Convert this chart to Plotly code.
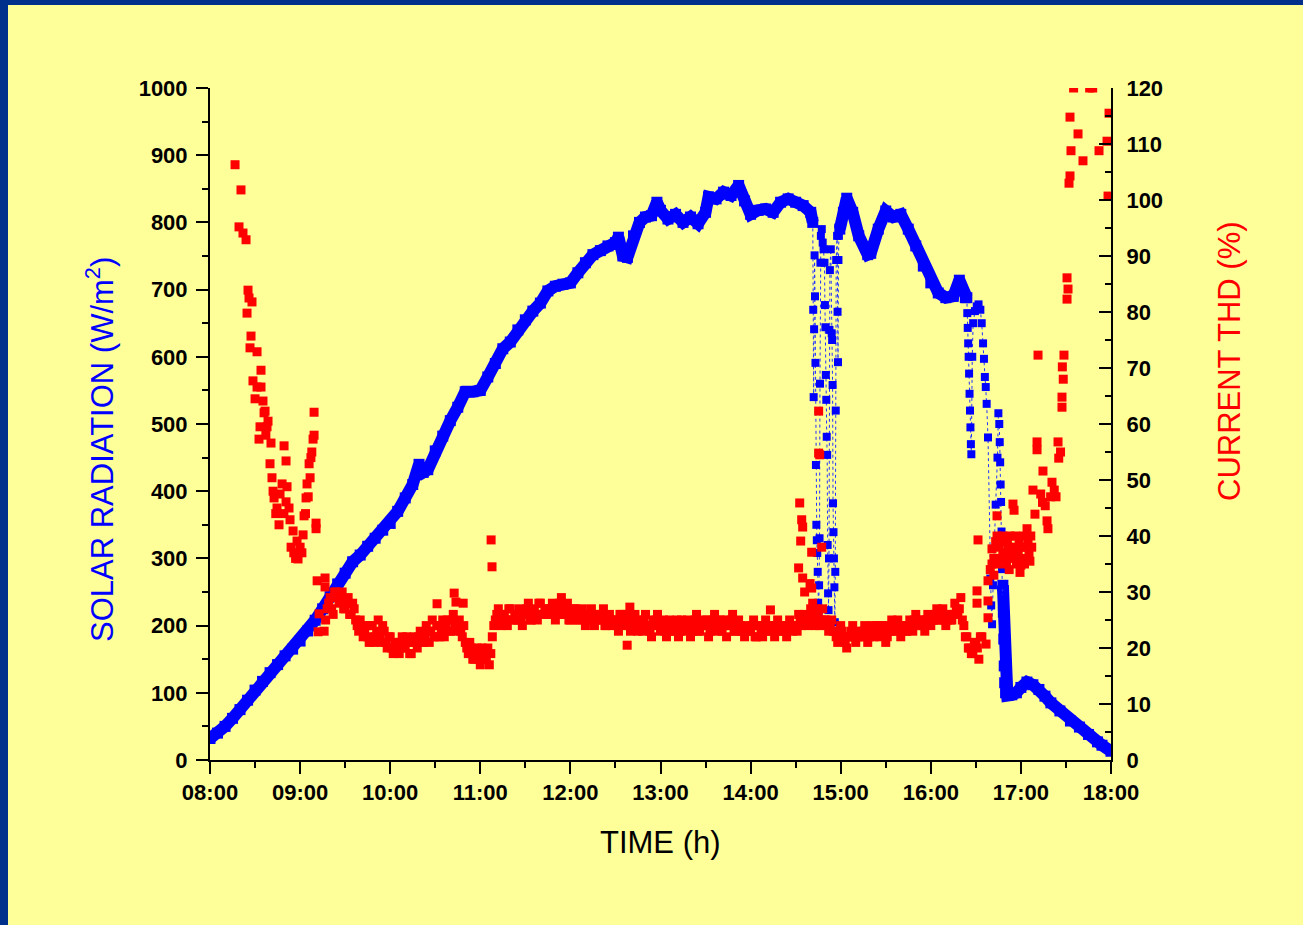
import plotly.graph_objects as go

# ---------------- DATA ----------------
time_ticks = [8, 9, 10, 11, 12, 13, 14, 15, 16, 17, 18]
time_labels = ["08:00", "09:00", "10:00", "11:00", "12:00", "13:00",
               "14:00", "15:00", "16:00", "17:00", "18:00"]

# Solar radiation (W/m2) - continuous parts of the record
solar_t1 = [8.000, 8.083, 8.167, 8.250, 8.333, 8.417, 8.500, 8.583, 8.667, 8.750,
            8.833, 8.917, 9.000, 9.083, 9.167, 9.250, 9.333, 9.417, 9.500, 9.583,
            9.667, 9.750, 9.833, 9.917, 10.000, 10.083, 10.167, 10.250, 10.320, 10.367,
            10.417, 10.500, 10.583, 10.667, 10.750, 10.833, 10.917, 11.000, 11.083, 11.167,
            11.250, 11.333, 11.417, 11.500, 11.583, 11.667, 11.750, 11.833, 11.917, 12.000,
            12.083, 12.167, 12.250, 12.333, 12.417, 12.500, 12.533, 12.583, 12.633, 12.700,
            12.767, 12.833, 12.900, 12.960, 13.000, 13.083, 13.167, 13.250, 13.333, 13.417,
            13.500, 13.533, 13.617, 13.700, 13.783, 13.867, 13.933, 14.000, 14.083, 14.167,
            14.250, 14.333, 14.417, 14.500, 14.583, 14.667, 14.690]
solar_v1 = [32, 40, 50, 62, 75, 89, 104, 117, 130, 142,
            155, 165, 177, 192, 208, 225, 243, 262, 278, 295,
            305, 318, 330, 342, 352, 370, 390, 410, 440, 428,
            432, 460, 482, 505, 525, 548, 548, 550, 570, 590,
            612, 622, 640, 655, 668, 680, 698, 705, 708, 710,
            725, 740, 752, 758, 765, 770, 778, 750, 748, 780,
            800, 808, 810, 830, 818, 805, 812, 800, 808, 798,
            815, 838, 835, 845, 840, 855, 832, 812, 818, 820,
            815, 830, 835, 830, 825, 815, 800]

solar_t2 = [14.990, 15.030, 15.067, 15.133, 15.200, 15.300, 15.333, 15.417, 15.500, 15.583,
            15.667, 15.750, 15.833, 15.917, 16.000, 16.083, 16.167, 16.250, 16.317, 16.383,
            16.400]
solar_v2 = [790, 815, 836, 815, 780, 752, 754, 790, 817, 808,
            812, 790, 765, 735, 710, 695, 688, 690, 714, 688,
            688]

solar_t3 = [16.800, 16.805, 16.810, 16.815, 16.820, 16.830, 16.850, 16.900, 16.950, 17.000,
            17.067, 17.133, 17.200, 17.267, 17.333, 17.433, 17.550, 17.650, 17.750, 17.850,
            17.900, 18.000]
solar_v3 = [260, 220, 180, 140, 115, 100, 96, 97, 100, 108,
            116, 112, 105, 95, 85, 73, 58, 49, 38, 27,
            22, 13]

# Solar radiation - fluctuating (cloud) intervals, single samples
dip_t1 = [14.690, 14.695, 14.700, 14.705, 14.710, 14.715, 14.720, 14.725, 14.730, 14.735,
          14.740, 14.745, 14.750, 14.755, 14.760, 14.765, 14.770, 14.775, 14.780, 14.790,
          14.800, 14.810, 14.820, 14.825, 14.830, 14.835, 14.840, 14.845, 14.850, 14.855,
          14.860, 14.865, 14.870, 14.875, 14.880, 14.890, 14.900, 14.905, 14.910, 14.915,
          14.920, 14.925, 14.930, 14.935, 14.940, 14.945, 14.950, 14.960, 14.965, 14.970,
          14.975, 14.980, 14.990]
dip_v1 = [800, 670, 540, 641, 751, 690, 591, 439, 350, 327,
          308, 280, 234, 220, 260, 330, 560, 740, 780, 790,
          770, 760, 740, 677, 644, 573, 536, 481, 454, 320,
          248, 223, 300, 640, 729, 760, 635, 625, 558, 382,
          339, 300, 257, 205, 280, 520, 744, 780, 667, 592,
          744, 780, 790]

dip_t2 = [16.400, 16.405, 16.410, 16.415, 16.420, 16.425, 16.430, 16.435, 16.440, 16.445,
          16.450, 16.460, 16.470, 16.490, 16.510, 16.530, 16.550, 16.565, 16.580, 16.590,
          16.600, 16.610, 16.620, 16.635, 16.660, 16.670, 16.680, 16.690, 16.700, 16.720,
          16.740, 16.750, 16.760, 16.765, 16.770, 16.775, 16.780, 16.785, 16.790, 16.795,
          16.800]
dip_v2 = [688, 665, 643, 620, 600, 575, 545, 520, 495, 470,
          455, 600, 650, 668, 675, 678, 670, 650, 620, 597,
          570, 555, 530, 480, 270, 230, 202, 260, 300, 380,
          450, 516, 500, 473, 443, 410, 384, 340, 284, 240,
          260]

# Current THD (%) - regularly sampled band A, every 2 min from 09:16
thd_band_start = 9 + 16 / 60
thd_band_step = 2 / 60
thd_band = [23, 27, 29, 26, 30, 28, 30, 27, 29, 26,
            27, 24, 25, 22, 24, 21, 24, 22, 25, 21,
            23, 20, 22, 19, 21, 19, 22, 20, 21, 19,
            22, 20, 23, 21, 24, 21, 25, 22, 24, 23,
            22, 25, 23, 26, 24, 25, 22, 21, 19, 20,
            18, 20, 17, 19, 18, 17, 22, 25, 27, 24,
            26, 24, 27, 25, 26, 27, 24, 26, 28, 25,
            27, 25, 28, 26, 27, 26, 28, 25, 27, 29,
            26, 28, 25, 27, 26, 25, 27, 24, 26, 27,
            24, 26, 25, 27, 24, 26, 24, 25, 23, 26,
            24, 26, 23, 25, 24, 25, 23, 26, 24, 22,
            24, 26, 23, 25, 22, 25, 23, 24, 22, 25,
            23, 25, 22, 24, 26, 23, 25, 24, 22, 25,
            26, 23, 25, 24, 22, 24, 26, 23, 25, 23,
            22, 24, 23, 25, 22, 24, 22, 25, 23, 24,
            22, 25, 23, 24, 22, 25, 23, 24, 26, 24,
            26, 24, 27, 25, 26, 24, 27, 25, 23, 25,
            23, 21, 24, 22, 20, 22, 24, 21, 23, 22,
            24, 21, 23, 22, 24, 22, 24, 21, 23, 25,
            23, 25, 22, 24, 23, 25, 23, 26, 24, 25,
            23, 26, 24, 25, 27, 25, 27, 24, 26, 25,
            28, 26, 29, 24, 22, 20, 19, 21, 18, 22]

# band B, every 2 min from 09:17
thd_band2_start = 9 + 17 / 60
thd_band2 = [25, 28, 27, 30, 29, 29, 27, 28, 26, 28,
             25, 23, 24, 23, 22, 24, 21, 23, 22, 24,
             21, 22, 20, 21, 20, 21, 20, 22, 19, 21,
             21, 22, 21, 22, 23, 23, 22, 24, 22, 25,
             24, 23, 25, 24, 23, 23, 24, 20, 21, 18,
             19, 18, 20, 18, 20, 19, 24, 26, 25, 26,
             25, 27, 25, 26, 25, 25, 26, 27, 25, 26,
             26, 28, 26, 27, 26, 27, 27, 26, 28, 26,
             27, 25, 26, 27, 25, 26, 26, 25, 25, 26,
             25, 25, 26, 24, 25, 25, 25, 24, 26, 25,
             25, 24, 24, 26, 23, 24, 25, 24, 23, 25,
             25, 24, 24, 23, 24, 23, 24, 25, 23, 24,
             24, 24, 23, 25, 23, 24, 24, 25, 23, 24,
             25, 24, 23, 25, 24, 25, 23, 24, 24, 23,
             23, 23, 24, 22, 24, 23, 24, 23, 24, 23,
             24, 23, 24, 23, 24, 24, 24, 23, 25, 25,
             25, 25, 26, 24, 26, 25, 25, 24, 24, 23,
             22, 22, 23, 21, 22, 23, 22, 22, 22, 23,
             23, 22, 24, 23, 23, 24, 23, 22, 24, 23,
             24, 24, 23, 23, 24, 24, 25, 24, 25, 24,
             25, 25, 25, 26, 25, 26, 25, 25, 25, 26,
             27, 27, 25, 22, 20, 19, 21, 20, 22]

# Current THD (%) - scattered samples
thd_t = [8.278, 8.344, 8.322, 8.366, 8.400, 8.422, 8.433, 8.466, 8.411, 8.455,
         8.444, 8.522, 8.566, 8.477, 8.522, 8.566, 8.500, 8.588, 8.611, 8.644,
         8.555, 8.633, 8.544, 8.677, 8.822, 8.844, 8.666, 8.688, 8.800, 8.855,
         8.711, 8.777, 8.844, 8.744, 8.877, 8.888, 8.766, 8.922, 8.966, 9.000,
         8.977, 9.033, 9.044, 9.066, 9.077, 9.111, 9.100, 9.144, 9.155, 9.155,
         9.177, 9.177, 9.189, 9.277, 9.277, 9.211, 9.200, 8.600, 8.620, 8.700,
         8.730, 8.820, 8.900, 8.930, 8.950, 9.020, 9.060, 9.090, 9.120, 9.130,
         10.520, 10.710, 10.730, 10.810, 11.120, 11.130, 12.660, 12.630, 14.220,
         14.545, 14.567, 14.578, 14.556, 14.533, 14.578, 14.678, 14.755, 14.755, 14.767,
         14.789, 14.678, 14.689, 14.660, 14.600, 14.720, 14.740,
         16.513, 16.513, 16.524, 16.635, 16.635, 16.635, 16.613, 16.660, 16.679, 16.679,
         16.700, 16.720, 16.735, 16.735, 16.760, 16.780, 16.800, 16.800, 16.820, 16.840,
         16.860, 16.880, 16.900, 16.912, 16.924, 16.930, 16.950, 16.960, 16.980, 17.000,
         17.020, 17.030, 17.050, 17.068, 17.079, 17.100, 17.120, 17.134, 17.156, 17.179,
         17.179, 17.190, 17.220, 17.240, 17.245, 17.270, 17.290, 17.300, 17.330, 17.345,
         17.370, 17.390, 17.412, 17.420, 17.440, 17.456, 17.456, 17.460, 17.470, 17.478,
         17.512, 17.523, 17.512, 17.534, 17.545, 17.556, 17.545, 17.585, 17.634, 17.689,
         17.763, 17.797, 17.867, 17.956, 17.978, 17.967,
         16.700, 16.740, 16.770, 16.830, 16.870, 16.970, 17.010, 17.040, 17.090, 17.110,
         16.990, 16.850, 16.890, 16.940]
thd_v = [106.3, 101.8, 95.2, 94.1, 92.9, 83.9, 82.5, 81.8, 79.8, 75.7,
         73.6, 72.9, 69.6, 67.7, 66.6, 66.6, 64.5, 64.1, 62.3, 60.5,
         59.5, 59.5, 57.3, 56.6, 56.1, 53.4, 52.9, 50.4, 49.3, 48.8,
         46.8, 47.5, 46.1, 45.0, 45.0, 42.9, 42.0, 40.9, 39.1, 38.0,
         35.9, 40.2, 43.6, 46.8, 49.3, 50.4, 52.9, 57.3, 58.0, 62.1,
         42.3, 41.3, 32.0, 32.5, 30.9, 26.1, 22.9, 62.0, 58.0, 48.0,
         44.0, 44.0, 38.0, 37.0, 36.0, 37.0, 44.0, 47.0, 54.0, 55.0,
         27.9, 29.8, 28.2, 28.0, 39.3, 34.5, 27.3, 20.5, 26.8,
         45.9, 42.9, 41.6, 39.1, 34.3, 32.5, 37.1, 62.3, 54.8, 54.5,
         38.0, 30.7, 28.0, 31.5, 30.0, 27.0, 26.5,
         30.2, 28.0, 39.3, 25.4, 28.4, 32.0, 20.7, 34.0, 35.0, 37.7,
         36.0, 39.0, 43.6, 40.0, 38.0, 36.0, 40.0, 37.0, 39.0, 35.0,
         38.0, 40.0, 36.0, 45.7, 44.6, 38.0, 35.0, 36.5, 39.0, 34.8,
         36.0, 40.0, 38.0, 41.3, 39.5, 35.5, 38.0, 48.2, 43.9, 56.8,
         55.4, 72.3, 47.5, 46.0, 51.6, 45.4, 42.7, 41.3, 47.0, 49.6,
         48.2, 47.0, 56.8, 53.9, 55.0, 64.8, 63.0, 70.2, 68.0, 72.3,
         86.1, 84.1, 82.3, 103.0, 104.3, 108.8, 114.8, 120.0, 111.8, 107.0,
         120.0, 120.0, 108.8, 110.5, 115.5, 100.7,
         33.0, 35.0, 39.0, 36.0, 34.0, 37.0, 38.0, 35.0, 37.0, 40.0,
         33.5, 39.0, 37.0, 40.0]

# ---------------- FIGURE ----------------
BLUE = "#0000FF"
RED = "#FF0000"
BG = "#FFFF99"
FRAME = "#00308C"
FONT = "Liberation Sans, Arial, sans-serif"

band_t = [thd_band_start + i * thd_band_step for i in range(len(thd_band))]
band2_t = [thd_band2_start + i * thd_band_step for i in range(len(thd_band2))]

fig = go.Figure()

# thick continuous radiation record
for tt, vv in [(solar_t1, solar_v1), (solar_t2, solar_v2), (solar_t3, solar_v3)]:
    fig.add_trace(go.Scatter(x=tt, y=vv, mode="lines+markers",
                             line=dict(color=BLUE, width=12),
                             marker=dict(symbol="square", size=11, color=BLUE),
                             showlegend=False, hoverinfo="skip"))
# fluctuating intervals: single samples joined by dotted line
for tt, vv in [(dip_t1, dip_v1), (dip_t2, dip_v2)]:
    fig.add_trace(go.Scatter(x=tt, y=vv, mode="lines+markers",
                             line=dict(color="#2233FF", width=1, dash="dot"),
                             marker=dict(symbol="square", size=8, color=BLUE),
                             showlegend=False, hoverinfo="skip"))

for tt, vv in [(band_t, thd_band), (band2_t, thd_band2), (thd_t, thd_v)]:
    fig.add_trace(go.Scatter(x=tt, y=vv, yaxis="y2", mode="markers",
                             marker=dict(symbol="square", size=9, color=RED),
                             showlegend=False, hoverinfo="skip"))

tickfont = dict(family=FONT, size=22, color="black", weight="bold")

fig.update_layout(
    width=1303, height=925, autosize=False,
    margin=dict(l=210, r=192, t=88, b=165, pad=0),
    paper_bgcolor=BG, plot_bgcolor=BG,
    showlegend=False,
    xaxis=dict(range=[8, 18], tickmode="array", tickvals=time_ticks, ticktext=time_labels,
               ticks="outside", ticklen=12, tickwidth=2, tickcolor="black",
               showline=True, linewidth=2, linecolor="black", showgrid=False, zeroline=False,
               tickfont=tickfont, ticklabelstandoff=0,
               minor=dict(tick0=8, dtick=0.5, ticks="outside", ticklen=6, tickwidth=2,
                          tickcolor="black", showgrid=False)),
    yaxis=dict(range=[0, 1000], tick0=0, dtick=100,
               ticks="outside", ticklen=12, tickwidth=2, tickcolor="black",
               showline=True, linewidth=2, linecolor="black", showgrid=False, zeroline=False,
               tickfont=tickfont, ticklabelstandoff=4,
               minor=dict(tick0=0, dtick=50, ticks="outside", ticklen=6, tickwidth=2,
                          tickcolor="black", showgrid=False)),
    yaxis2=dict(range=[0, 120], tick0=0, dtick=10, overlaying="y", side="right",
                ticks="inside", ticklen=12, tickwidth=2, tickcolor="black",
                showline=True, linewidth=2, linecolor="black", showgrid=False, zeroline=False,
                tickfont=tickfont, ticklabelstandoff=9,
                minor=dict(tick0=0, dtick=5, ticks="inside", ticklen=6, tickwidth=2,
                           tickcolor="black", showgrid=False)),
)

W, H = 901.0, 672.0
def px(x):
    return (x - 210) / W
def py(y):
    return (760 - y) / H

# dark blue frame strips (left and top edges of the slide)
fig.add_shape(type="rect", xref="paper", yref="paper", x0=px(0), x1=px(8), y0=py(925), y1=py(0),
              fillcolor=FRAME, line=dict(width=0), layer="above")
fig.add_shape(type="rect", xref="paper", yref="paper", x0=px(0), x1=px(1303), y0=py(5), y1=py(0),
              fillcolor=FRAME, line=dict(width=0), layer="above")

fig.add_annotation(text="SOLAR RADIATION (W/m<sup>2</sup>)", xref="paper", yref="paper",
                   x=px(100), y=py(450), textangle=-90, showarrow=False,
                   xanchor="center", yanchor="middle",
                   font=dict(family=FONT, size=31, color=BLUE))
fig.add_annotation(text="CURRENT THD (%)", xref="paper", yref="paper",
                   x=px(1229), y=py(361), textangle=-90, showarrow=False,
                   xanchor="center", yanchor="middle",
                   font=dict(family=FONT, size=31, color=RED))
fig.add_annotation(text="TIME (h)", xref="paper", yref="paper",
                   x=px(660), y=py(843), showarrow=False,
                   xanchor="center", yanchor="middle",
                   font=dict(family=FONT, size=31, color="black"))

fig.write_html("out.html")
